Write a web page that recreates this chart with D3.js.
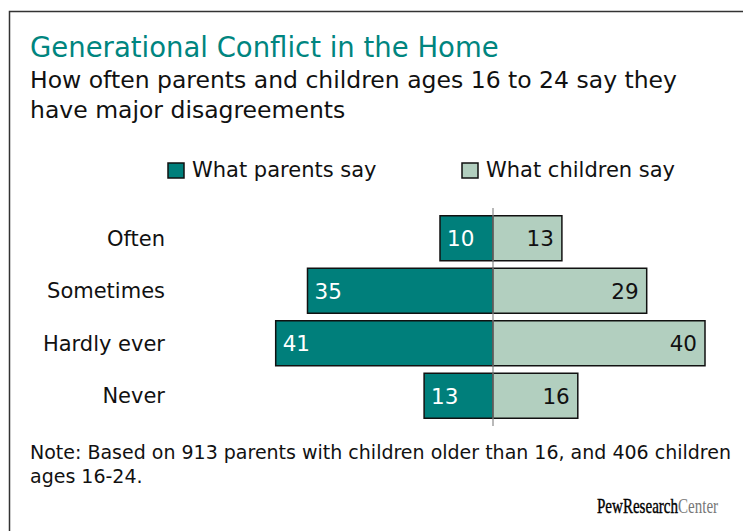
<!DOCTYPE html>
<html>
<head>
<meta charset="utf-8">
<script src="https://cdn.jsdelivr.net/npm/d3@7"></script>
<style>
  body { margin: 0; background: #fff; }
  svg text { font-family: "DejaVu Sans", sans-serif; }
</style>
</head>
<body>
<svg id="chart" width="743" height="531"></svg>
<script>
let categories = ["Often", "Sometimes", "Hardly ever", "Never"];
let parentsSay = [10, 35, 41, 13];
let childrenSay = [13, 29, 40, 16];
let seriesNames = ["What parents say", "What children say"];
let seriesColors = ["#007f7b", "#b2cfbf"];

let svg = d3.select("#chart");

// frame (runs off the right and bottom edge)
svg.append("path")
    .attr("d", "M9.5,531 L9.5,11.5 L743,11.5")
    .attr("fill", "none")
    .attr("stroke", "#333")
    .attr("stroke-width", 1.5);

svg.append("text")
    .attr("x", 30).attr("y", 57)
    .attr("fill", "#00857f")
    .style("font-size", "27.5px")
    .text("Generational Conflict in the Home");

svg.append("text")
    .attr("x", 30).attr("y", 88)
    .attr("fill", "#111")
    .style("font-size", "23.5px")
    .text("How often parents and children ages 16 to 24 say they");
svg.append("text")
    .attr("x", 30).attr("y", 118)
    .attr("fill", "#111")
    .style("font-size", "23.5px")
    .text("have major disagreements");

// legend
let legendX = [168, 462];
let legend = svg.selectAll(".legend")
    .data(seriesNames)
    .enter().append("g")
    .attr("class", "legend")
    .attr("transform", (d, i) => "translate(" + legendX[i] + ",163)");
legend.append("rect")
    .attr("width", 16).attr("height", 15)
    .attr("fill", (d, i) => seriesColors[i])
    .attr("stroke", "#111").attr("stroke-width", 1.5);
legend.append("text")
    .attr("x", 24).attr("y", 14)
    .attr("fill", "#111")
    .style("font-size", "21px")
    .text(d => d);

let x = d3.scaleLinear().domain([-50, 50]).range([228, 758]);
let y = d3.scaleBand().domain(categories).range([212, 422])
    .paddingInner(0.143).paddingOuter(0.0715);

let rows = svg.selectAll(".row")
    .data(categories)
    .enter().append("g")
    .attr("class", "row");

rows.append("text")
    .attr("x", 165)
    .attr("y", d => y(d) + y.bandwidth() / 2 + 7.5)
    .attr("text-anchor", "end")
    .attr("fill", "#111")
    .style("font-size", "21px")
    .text(d => d);

rows.append("rect")
    .attr("x", (d, i) => x(-parentsSay[i]))
    .attr("y", d => y(d))
    .attr("width", (d, i) => x(0) - x(-parentsSay[i]))
    .attr("height", y.bandwidth())
    .attr("fill", seriesColors[0])
    .attr("stroke", "#111").attr("stroke-width", 1.5);

rows.append("rect")
    .attr("x", x(0))
    .attr("y", d => y(d))
    .attr("width", (d, i) => x(childrenSay[i]) - x(0))
    .attr("height", y.bandwidth())
    .attr("fill", seriesColors[1])
    .attr("stroke", "#111").attr("stroke-width", 1.5);

rows.append("text")
    .attr("x", (d, i) => x(-parentsSay[i]) + 7)
    .attr("y", d => y(d) + y.bandwidth() / 2 + 8)
    .attr("fill", "#fff")
    .style("font-size", "21.5px")
    .text((d, i) => parentsSay[i]);

rows.append("text")
    .attr("x", (d, i) => x(childrenSay[i]) - 8)
    .attr("y", d => y(d) + y.bandwidth() / 2 + 8)
    .attr("text-anchor", "end")
    .attr("fill", "#111")
    .style("font-size", "21.5px")
    .text((d, i) => childrenSay[i]);

// zero line
svg.append("line")
    .attr("x1", x(0)).attr("x2", x(0))
    .attr("y1", 208).attr("y2", 426)
    .attr("stroke", "#8a8a8a").attr("stroke-width", 1.2);

svg.append("text")
    .attr("x", 30).attr("y", 459)
    .attr("fill", "#111")
    .style("font-size", "19px")
    .text("Note: Based on 913 parents with children older than 16, and 406 children");
svg.append("text")
    .attr("x", 30).attr("y", 483)
    .attr("fill", "#111")
    .style("font-size", "19px")
    .text("ages 16-24.");

// logo, squeezed horizontally
let logo = svg.append("g")
    .attr("transform", "translate(597,513) scale(0.7,1)")
    .append("text")
    .style("font-family", "'Liberation Serif', serif")
    .style("font-size", "21.5px");
logo.append("tspan").attr("fill", "#000").attr("stroke", "#000").attr("stroke-width", 0.4).text("PewResearch");
logo.append("tspan").attr("fill", "#777").text("Center");
</script>
</body>
</html>
